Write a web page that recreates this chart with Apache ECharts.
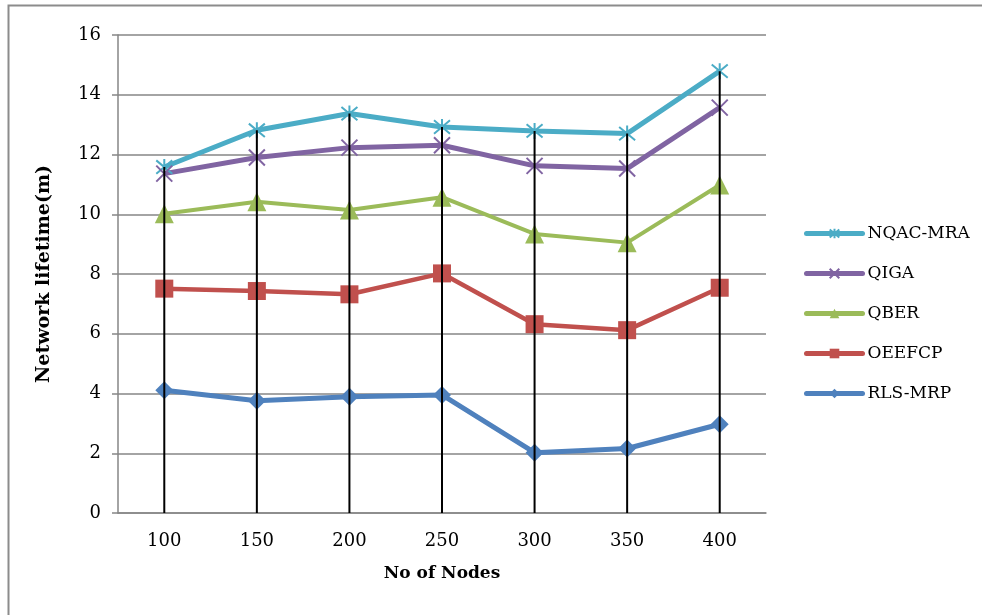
<!DOCTYPE html>
<html>
<head>
<meta charset="utf-8">
<script src="https://cdn.jsdelivr.net/npm/echarts@6/dist/echarts.min.js"></script>
<style>html,body{margin:0;padding:0;background:#fff;}#c{width:982px;height:615px;}</style>
</head>
<body>
<div id="c"></div>
<script>
const categories = ['100', '150', '200', '250', '300', '350', '400'];
const seriesNames = ['NQAC-MRA', 'QIGA', 'QBER', 'OEEFCP', 'RLS-MRP'];
const nqacMra = [11.58, 12.81, 13.37, 12.92, 12.79, 12.70, 14.79];
const qiga    = [11.36, 11.90, 12.23, 12.31, 11.62, 11.53, 13.57];
const qber    = [10.02, 10.42, 10.14, 10.57, 9.34, 9.05, 10.98];
const oeefcp  = [7.51, 7.43, 7.32, 8.02, 6.32, 6.12, 7.54];
const rlsMrp  = [4.11, 3.76, 3.89, 3.95, 2.02, 2.16, 2.97];
const yTicks = [0, 2, 4, 6, 8, 10, 12, 14, 16];

const colors = ['#4BACC6', '#8064A2', '#9BBB59', '#C0504D', '#4F81BD'];
const FONT = 'DejaVu Serif';

const chart = echarts.init(document.getElementById('c'), null, {renderer: 'canvas'});

const allSeries = [nqacMra, qiga, qber, oeefcp, rlsMrp];
const dropTop = categories.map((c, i) => Math.max(...allSeries.map(s => s[i])));

function lineSeries(name, data, color, symbol, size, width) {
  return {
    name: name, type: 'line', data: data,
    symbol: symbol, symbolSize: size, showSymbol: true,
    lineStyle: {color: color, width: width},
    itemStyle: {color: color, borderColor: color, borderWidth: (symbol.indexOf('path') === 0 ? 2 : 0)},
    emphasis: {disabled: true},
    animation: false, z: 3
  };
}

const starPath = 'path://M0,0L10,10M10,0L0,10M5,-1L5,11';
const xPath = 'path://M0,0L10,10M10,0L0,10';

chart.setOption({
  animation: false,
  backgroundColor: '#ffffff',
  graphic: [{
    type: 'rect', silent: true, z: -10,
    shape: {x: 8.5, y: 5.5, width: 1000, height: 700},
    style: {fill: null, stroke: '#8c8c8c', lineWidth: 2}
  }],
  grid: {left: 118, right: 216, top: 35, bottom: 102, containLabel: false},
  legend: {
    orient: 'vertical', left: 799, top: 220,
    itemWidth: 56, itemHeight: 12, itemGap: 23,
    data: seriesNames,
    lineStyle: {width: 5, cap: 'round'},
    textStyle: {fontFamily: FONT, fontSize: 17, color: '#000'}
  },
  xAxis: {
    type: 'category', data: categories, boundaryGap: true,
    name: 'No of Nodes', nameLocation: 'middle', nameGap: 52,
    nameTextStyle: {fontFamily: FONT, fontSize: 17, fontWeight: 'bold', color: '#000'},
    axisLine: {show: true, lineStyle: {color: '#868686', width: 1.5}},
    axisTick: {show: false},
    axisLabel: {fontFamily: FONT, fontSize: 18, color: '#000', margin: 19}
  },
  yAxis: {
    type: 'value', min: 0, max: 16, interval: 2,
    name: 'Network lifetime(m)', nameLocation: 'middle', nameGap: 64,
    nameTextStyle: {fontFamily: FONT, fontSize: 19, fontWeight: 'bold', color: '#000'},
    axisLine: {show: true, lineStyle: {color: '#868686', width: 1.5}},
    axisTick: {show: true, length: 6, lineStyle: {color: '#868686', width: 1.5}},
    axisLabel: {fontFamily: FONT, fontSize: 18, color: '#000', margin: 17,
      formatter: v => (yTicks.indexOf(v) >= 0 ? String(v) : '')},
    splitLine: {show: true, lineStyle: {color: '#868686', width: 1.5}}
  },
  series: [
    lineSeries('NQAC-MRA', nqacMra, colors[0], starPath, 16, 5),
    lineSeries('QIGA', qiga, colors[1], xPath, 16, 5),
    lineSeries('QBER', qber, colors[2], 'triangle', 19, 4),
    lineSeries('OEEFCP', oeefcp, colors[3], 'rect', 18, 4.5),
    lineSeries('RLS-MRP', rlsMrp, colors[4], 'diamond', 18, 5),
    {
      type: 'custom', name: 'drop', data: dropTop.map((v, i) => [i, v]),
      silent: true, z: 10, animation: false,
      renderItem: function (params, api) {
        const top = api.coord([api.value(0), api.value(1)]);
        const bot = api.coord([api.value(0), 0]);
        return {type: 'line', shape: {x1: top[0], y1: top[1], x2: bot[0], y2: bot[1]},
          style: {stroke: '#000', lineWidth: 2}};
      }
    }
  ]
});
</script>
</body>
</html>
